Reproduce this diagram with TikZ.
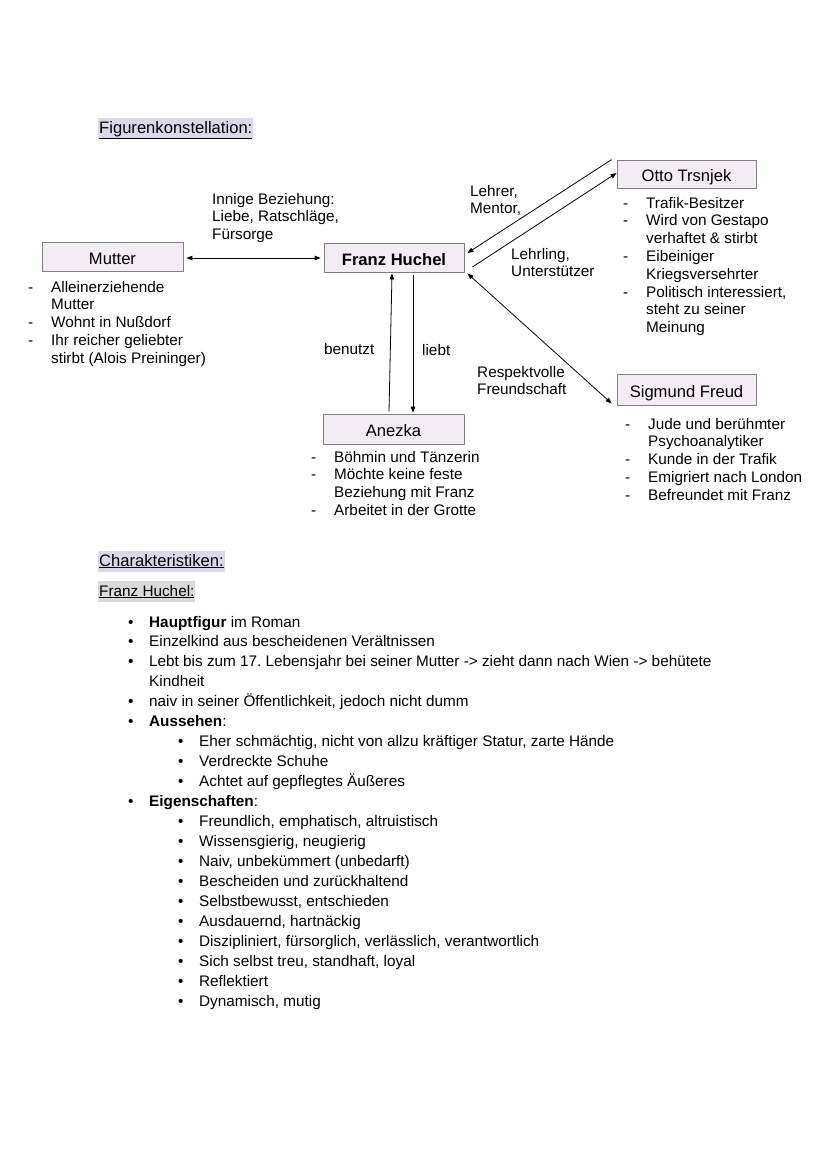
\documentclass[tikz,border=0pt]{standalone}
\usepackage{fontspec}
\setmainfont{Liberation Sans}
\usetikzlibrary{arrows.meta,calc}
\frenchspacing
\definecolor{boxfill}{HTML}{F4ECF4}
\definecolor{boxline}{HTML}{7F7F7F}
\definecolor{hllav}{HTML}{DCD8EC}
\definecolor{hlgray}{HTML}{DADADA}
\newcommand{\txtfont}{\fontsize{15.3}{17.8}\selectfont}
\newcommand{\bigfont}{\fontsize{16.6}{19}\selectfont}
\newcommand{\listfont}{\fontsize{15.3}{19.95}\selectfont}
\newcommand{\ml}[1]{\begin{tabular}[t]{@{}l@{}}#1\end{tabular}}
\newcommand{\dl}[1]{\begin{tabular}[t]{@{}p{23pt}@{}l@{}}#1\end{tabular}}
\newcommand{\bi}{\makebox[21pt][l]{\textbullet}}
\newcommand{\bii}{\hspace*{50pt}\makebox[21pt][l]{\textbullet}}
\tikzset{
  person/.style={draw=boxline, fill=boxfill, line width=0.8pt, inner sep=0pt, font=\bigfont, text height=15pt, text depth=0pt},
  txt/.style={inner sep=0pt, font=\txtfont, anchor=base west},
  heading/.style={inner xsep=1pt, inner ysep=0pt, text height=14pt, text depth=6pt, font=\txtfont, anchor=base west},
  conn/.style={draw, line width=0.8pt, -{Triangle[length=6pt,width=4.5pt]}},
  conn2/.style={draw, line width=0.8pt, {Triangle[length=6pt,width=4.5pt]}-{Triangle[length=6pt,width=4.5pt]}}
}
\begin{document}
\begin{tikzpicture}[x=1pt,y=-1pt]
\useasboundingbox[fill=white] (0,0) rectangle (828,1171);

% headings
\node[heading, fill=hllav, font=\bigfont, text height=15pt] (h1) at (98,133) {\underline{Figurenkonstellation:}};

% persons
\node[person, minimum width=141pt, minimum height=29pt] (Mutter) at (112.5,256.5) {Mutter};
\node[person, minimum width=140pt, minimum height=29pt] (Franz) at (394,257.5) {\textbf{Franz Huchel}};
\node[person, minimum width=139pt, minimum height=28pt] (Otto) at (686.5,174) {Otto Trsnjek};
\node[person, minimum width=139pt, minimum height=31pt] (Freud) at (686.5,389.5) {Sigmund Freud};
\node[person, minimum width=141pt, minimum height=30pt] (Anezka) at (393.5,429) {Anezka};

% connectors
\draw[conn2] ($(Mutter.east)+(3,1.5)$) -- ($(Franz.west)+(-3,0.5)$);
\coordinate (o1) at ($(Otto.north west)+(-5,0)$);
\draw[conn] (o1) -- ($(Franz.east)+(3,-4.5)$);
\draw[conn] ($(Franz.east)+(8,9.5)$) -- ($(Otto.west)+(0,-1)$);
\draw[conn2] ($(Franz.south east)+(3,1)$) -- ($(Freud.south west)+(-5,-2)$);
\draw[conn] ($(Anezka.north)+(-4.5,-2)$) -- ($(Franz.south)+(-2,1)$);
\draw[conn] ($(Franz.south)+(19,3)$) -- ($(Anezka.north)+(19.5,-1)$);

% connector labels
\node[txt] (lInnig) at (212,204) {\ml{Innige Beziehung:\\ Liebe, Ratschläge,\\ Fürsorge}};
\node[txt] (lLehrer) at (470,196) {\ml{Lehrer,\\ Mentor,}};
\node[txt] (lLehrling) at (511,259) {\ml{Lehrling,\\ Unterstützer}};
\node[txt] (lBenutzt) at (324,354) {benutzt};
\node[txt] (lLiebt) at (422,355) {liebt};
\node[txt] (lResp) at (477,377) {\ml{Respektvolle\\ Freundschaft}};

% person descriptions
\node[txt] (dMutter) at (28,292) {\dl{-& Alleinerziehende\\ & Mutter\\ -& Wohnt in Nußdorf\\ -& Ihr reicher geliebter\\ & stirbt (Alois Preininger)}};
\node[txt] (dOtto) at (623,208) {\dl{-& Trafik-Besitzer\\ -& Wird von Gestapo\\ & verhaftet \& stirbt\\ -& Eibeiniger\\ & Kriegsversehrter\\ -& Politisch interessiert,\\ & steht zu seiner\\ & Meinung}};
\node[txt] (dFreud) at (625,429) {\dl{-& Jude und berühmter\\ & Psychoanalytiker\\ -& Kunde in der Trafik\\ -& Emigriert nach London\\ -& Befreundet mit Franz}};
\node[txt] (dAnezka) at (311,462) {\dl{-& Böhmin und Tänzerin\\ -& Möchte keine feste\\ & Beziehung mit Franz\\ -& Arbeitet in der Grotte}};

% Charakteristiken
\node[heading, fill=hllav, font=\bigfont, text height=15pt] (h2) at (98,566) {\underline{Charakteristiken:}};
\node[heading, fill=hlgray, text height=15pt] (h3) at (98,596) {\underline{Franz Huchel:}};

\node[txt, font=\listfont] (liste) at (128,627) {\ml{%
\bi\textbf{Hauptfigur} im Roman\\
\bi Einzelkind aus bescheidenen Verältnissen\\
\bi Lebt bis zum 17. Lebensjahr bei seiner Mutter -> zieht dann nach Wien -> behütete\\
\hspace*{21pt}Kindheit\\
\bi naiv in seiner Öffentlichkeit, jedoch nicht dumm\\
\bi\textbf{Aussehen}:\\
\bii Eher schmächtig, nicht von allzu kräftiger Statur, zarte Hände\\
\bii Verdreckte Schuhe\\
\bii Achtet auf gepflegtes Äußeres\\
\bi\textbf{Eigenschaften}:\\
\bii Freundlich, emphatisch, altruistisch\\
\bii Wissensgierig, neugierig\\
\bii Naiv, unbekümmert (unbedarft)\\
\bii Bescheiden und zurückhaltend\\
\bii Selbstbewusst, entschieden\\
\bii Ausdauernd, hartnäckig\\
\bii Diszipliniert, fürsorglich, verlässlich, verantwortlich\\
\bii Sich selbst treu, standhaft, loyal\\
\bii Reflektiert\\
\bii Dynamisch, mutig}};
\end{tikzpicture}
\end{document}
